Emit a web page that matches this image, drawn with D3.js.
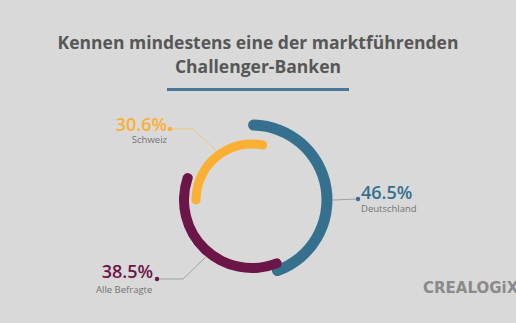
<!DOCTYPE html>
<html>
<head>
<meta charset="utf-8">
<script src="https://d3js.org/d3.v7.min.js"></script>
<style>
  body { margin: 0; background: #d9d9d9; }
  svg { display: block; }
  .title { font-family: "Open Sans", sans-serif; font-weight: 700; fill: #575757; }
  .num { font-family: "Open Sans", sans-serif; font-weight: 600; }
  .lbl { font-family: "Open Sans", sans-serif; fill: #737373; }
</style>
</head>
<body>
<svg id="chart"></svg>
<script>
// data
const titleLines = ["Kennen mindestens eine der marktführenden", "Challenger-Banken"];
const groups = ["Deutschland", "Alle Befragte", "Schweiz"];
const shares = [46.5, 38.5, 30.6];
const shareLabels = ["46.5%", "38.5%", "30.6%"];

const width = 516, height = 323;
const cx = 252, cy = 200;

// ring layout per group
const radii = [75, 68, 56];
const thick = [11, 10, 9];
const startDeg = [-3, 154.5, -94.5];
const colors = ["#35718e", "#6c1549", "#fbb034"];
const lineColors = ["#9a9a9a", "#9a9a9a", "#f3c56d"];
// label layout: connector angle (deg), elbow, dot, text anchor/positions
const hookDeg = [90, 219, -36];
const elbows = [null, [183, 279], [193, 129]];
const dots = [[358, 199], [157, 279], [170, 129]];
const numPos = [[361, 199, "start"], [153, 278, "end"], [167, 131, "end"]];
const lblPos = [[361, 212, "start"], [96, 293, "start"], [167, 143, "end"]];

const svg = d3.select("#chart")
    .attr("width", width)
    .attr("height", height);

svg.append("rect")
    .attr("width", width)
    .attr("height", height)
    .attr("fill", "#d9d9d9");

// title
svg.selectAll("text.title")
    .data(titleLines)
    .join("text")
    .attr("class", "title")
    .attr("x", 258)
    .attr("y", (d, i) => 49 + i * 24)
    .attr("text-anchor", "middle")
    .attr("font-size", 17.5)
    .text(d => d);

svg.append("line")
    .attr("x1", 167).attr("x2", 349)
    .attr("y1", 89.5).attr("y2", 89.5)
    .attr("stroke", "#4a7896")
    .attr("stroke-width", 3);

// angle scale: percent -> radians
const angle = d3.scaleLinear().domain([0, 100]).range([0, 2 * Math.PI]);
const rad = d => d * Math.PI / 180;

const rings = svg.append("g").attr("transform", `translate(${cx},${cy})`);

rings.selectAll("path")
    .data(shares)
    .join("path")
    .attr("fill", (d, i) => colors[i])
    .attr("d", (d, i) => d3.arc()
        .innerRadius(radii[i] - thick[i] / 2)
        .outerRadius(radii[i] + thick[i] / 2)
        .cornerRadius(thick[i] / 2)
        .startAngle(rad(startDeg[i]))
        .endAngle(rad(startDeg[i]) + angle(d))());

// connectors
const ann = svg.append("g");
groups.forEach((g, i) => {
    const p = d3.pointRadial(rad(hookDeg[i]), radii[i] + thick[i] / 2 + 0.5);
    const pts = [[cx + p[0], cy + p[1]]];
    if (elbows[i]) pts.push(elbows[i]);
    pts.push(dots[i]);
    ann.append("path")
        .attr("d", d3.line()(pts))
        .attr("fill", "none")
        .attr("stroke", lineColors[i])
        .attr("stroke-width", 0.9);
    ann.append("circle")
        .attr("cx", dots[i][0]).attr("cy", dots[i][1])
        .attr("r", 2.2)
        .attr("fill", colors[i]);
    ann.append("text")
        .attr("class", "num")
        .attr("x", numPos[i][0]).attr("y", numPos[i][1])
        .attr("text-anchor", numPos[i][2])
        .attr("font-size", 18)
        .attr("fill", colors[i])
        .text(shareLabels[i]);
    ann.append("text")
        .attr("class", "lbl")
        .attr("x", lblPos[i][0]).attr("y", lblPos[i][1])
        .attr("text-anchor", lblPos[i][2])
        .attr("font-size", 9.5)
        .text(g);
});

// logo
svg.append("text")
    .attr("x", 423).attr("y", 293)
    .attr("font-family", "DejaVu Sans, sans-serif")
    .attr("font-weight", 700)
    .attr("font-size", 15)
    .attr("fill", "#8a8a8a")
    .text("CREALOGiX");
</script>
</body>
</html>
